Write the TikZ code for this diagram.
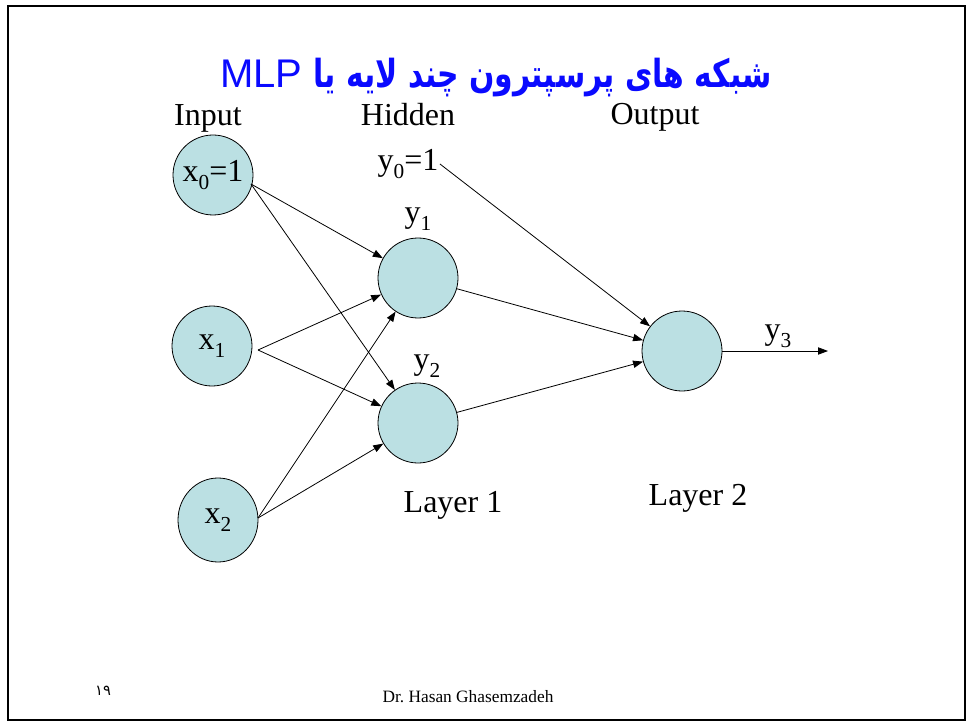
\documentclass[tikz,border=0pt]{standalone}
\usepackage{fontspec}
\setmainfont{Liberation Serif}
\newfontfamily\arabicfont[Script=Arabic]{DejaVu Sans}
\newfontfamily\arialfont{Liberation Sans}
\TeXXeTstate=1
\frenchspacing
\usetikzlibrary{arrows.meta,shapes.geometric}
\definecolor{cellfill}{RGB}{187,224,227}
\definecolor{titleblue}{RGB}{10,10,255}
\newcommand\sbs[1]{\raisebox{-6pt}{\fontsize{16}{16}\selectfont #1}}
\tikzset{
  neuron/.style={circle,draw=black,line width=0.6pt,fill=cellfill,minimum size=60pt,inner sep=0pt,font=\fontsize{24}{26}\selectfont},
  lbl/.style={inner sep=1pt,font=\fontsize{24}{26}\selectfont},
  conn/.style={draw=black,line width=0.6pt,-{Triangle[length=7.5pt,width=5.5pt]}},
}
\begin{document}
\begin{tikzpicture}[x=0.75pt,y=-0.75pt]
\useasboundingbox (0,0) rectangle (969,723);
\draw[line width=1.6pt] (8,6) rectangle (965,720);
% title
\node[text=titleblue,inner sep=0pt] (title) at (496,78) {\arialfont\fontsize{30}{34}\selectfont MLP \scalebox{0.77}[1]{\arabicfont\bfseries\fontsize{29}{34}\selectfont\beginR شبکه های پرسپترون چند لایه یا\endR}};
% layer headings
\node[lbl] (lin) at (208,118) {Input};
\node[lbl] (lhid) at (408,115) {Hidden};
\node[lbl] (lout) at (655,117) {Output};
% neurons
\node[neuron] (x0) at (213,175) {x\sbs{0}=1};
\node[neuron] (x1) at (212,346) {x\sbs{1}};
\node[neuron,ellipse,minimum width=60pt,minimum height=63pt] (x2) at (218,520) {x\sbs{2}};
\node[neuron] (h1) at (418,278) {};
\node[neuron] (h2) at (418,423) {};
\node[neuron] (out) at (682,351) {};
% labels
\node[lbl] (y0) at (408,164) {y\sbs{0}=1};
\node[lbl] (y1) at (418,219) {y\sbs{1}};
\node[lbl] (y2) at (427,366) {y\sbs{2}};
\node[lbl] (y3) at (778,336) {y\sbs{3}};
\node[lbl] (lay1) at (453,505) {Layer 1};
\node[lbl] (lay2) at (698,498) {Layer 2};
% footer
\node[inner sep=0pt,font=\fontsize{13}{15}\selectfont] (foot) at (468,697) {Dr. Hasan Ghasemzadeh};
\node[inner sep=0pt,font=\arabicfont\fontsize{11}{13}\selectfont] (pnum) at (103,691) {\beginR ۱۹\endR};
% connector start points
\coordinate (x0o) at (251,184);
\coordinate (x1o) at (258,350);
\coordinate (x2o) at (258,518);
\coordinate (y3end) at (828,351);
% connectors
\draw[conn] (x0o) -- (h1);
\draw[conn] (x0o) -- (h2);
\draw[conn] (x1o) -- (h1);
\draw[conn] (x1o) -- (h2);
\draw[conn] (x2o) -- (h1);
\draw[conn] (x2o) -- (h2);
\draw[conn] (h1) -- (out);
\draw[conn] (h2) -- (out);
\draw[conn] (y0.east) -- (out);
\draw[conn] (out) -- (y3end);
\end{tikzpicture}
\end{document}
